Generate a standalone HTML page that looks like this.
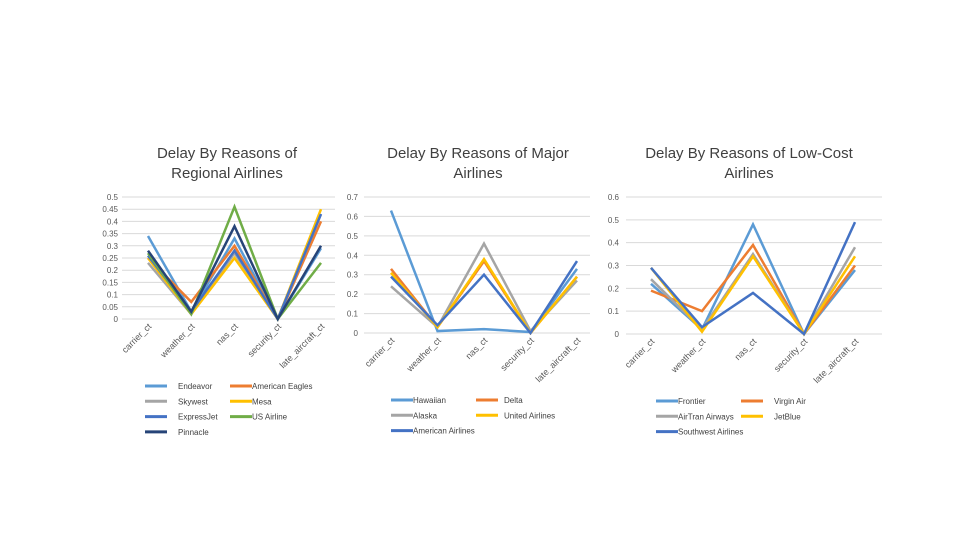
<!DOCTYPE html>
<html><head><meta charset="utf-8"><style>
body{margin:0;background:#fff;width:960px;height:540px;overflow:hidden;font-family:"Liberation Sans",sans-serif}
svg{position:absolute;left:0;top:0}
</style></head><body>
<svg id="s" width="960" height="540"></svg>
<script>
const categories=["carrier_ct","weather_ct","nas_ct","security_ct","late_aircraft_ct"];
const regNames=["Endeavor","American Eagles","Skywest","Mesa","ExpressJet","US Airline","Pinnacle"];
const regEndeavor=[0.34,0.03,0.33,0,0.29];
const regAmerican=[0.25,0.07,0.30,0,0.40];
const regSkywest=[0.23,0.02,0.27,0,0.43];
const regMesa=[0.25,0.02,0.25,0,0.45];
const regExpress=[0.26,0.03,0.28,0,0.43];
const regUS=[0.27,0.02,0.46,0,0.23];
const regPinnacle=[0.28,0.03,0.38,0,0.30];
const majNames=["Hawaiian","Delta","Alaska","United Airlines","American Airlines"];
const majHawaiian=[0.63,0.01,0.02,0.005,0.33];
const majDelta=[0.33,0.03,0.37,0,0.29];
const majAlaska=[0.24,0.03,0.46,0.01,0.27];
const majUnited=[0.31,0.03,0.38,0,0.29];
const majAmerican=[0.29,0.04,0.30,0,0.37];
const lowNames=["Frontier","Virgin Air","AirTran Airways","JetBlue","Southwest Airlines"];
const lowFrontier=[0.22,0.02,0.48,0,0.28];
const lowVirgin=[0.19,0.10,0.39,0,0.30];
const lowAirTran=[0.24,0.02,0.35,0,0.38];
const lowJetBlue=[0.29,0.01,0.34,0,0.34];
const lowSouthwest=[0.29,0.03,0.18,0,0.49];
const regTicks=["0","0.05","0.1","0.15","0.2","0.25","0.3","0.35","0.4","0.45","0.5"];
const majTicks=["0","0.1","0.2","0.3","0.4","0.5","0.6","0.7"];
const lowTicks=["0","0.1","0.2","0.3","0.4","0.5","0.6"];

const NS="http://www.w3.org/2000/svg";
const svg=document.getElementById('s');
function mk(t,a,p){const e=document.createElementNS(NS,t);for(const k in a)e.setAttribute(k,a[k]);(p||svg).appendChild(e);return e;}
const C1=["#5B9BD5","#ED7D31","#A5A5A5","#FFC000","#4472C4","#70AD47","#264478"];
const C2=["#5B9BD5","#ED7D31","#A5A5A5","#FFC000","#4472C4"];

function chart(o){
  const g=mk('g',{});
  
  
  const max=parseFloat(o.ticks[o.ticks.length-1]);
  const y=v=>o.y0-(v/max)*(o.y0-o.y1);
  const x=i=>o.cx[0]+i*(o.cx[1]-o.cx[0])/4;
  const tt=mk('text',{x:o.tx,y:158,'text-anchor':'middle','font-size':15,fill:'#404040'},g);
  
  o.title.forEach((l,i)=>{const ts=mk('tspan',{x:o.tx,dy:i?20:0},tt);ts.textContent=l;});
  o.ticks.forEach(t=>{const v=parseFloat(t);const yy=y(v);
    const gl=mk('line',{x1:o.gx[0],x2:o.gx[1],y1:yy,y2:yy,stroke:'#d9d9d9','stroke-width':1},g);
    
    const lb=mk('text',{x:o.lx,y:yy+3,'text-anchor':'end','font-size':8,fill:'#595959'},g);lb.textContent=t;
    });
  categories.forEach((c,i)=>{const xx=x(i)+4,yy=o.y0+8;
    const lb=mk('text',{x:xx,y:yy,'text-anchor':'end','font-size':9,fill:'#595959',transform:`rotate(-45 ${xx} ${yy})`},g);lb.textContent=c;
    });
  o.series.forEach((s,k)=>{
    const pl=mk('polyline',{points:s.map((v,i)=>x(i)+','+y(v)).join(' '),fill:'none',stroke:o.colors[k],'stroke-width':2.5,'stroke-linejoin':'miter'},g);
    
    const col=k%2,row=Math.floor(k/2);
    const lx=o.leg[0]+col*o.leg[2],ly=o.leg[1]+row*15.3;
    const lg=mk('g',{},g);
    mk('line',{x1:lx,x2:lx+22,y1:ly,y2:ly,stroke:o.colors[k],'stroke-width':3},lg);
    const lt=mk('text',{x:lx+(col?o.leg[4]:o.leg[3]),y:ly+3,'font-size':8,fill:'#404040'},lg);lt.textContent=o.names[k];
  });
}
chart({name:'regional-chart',title:['Delay By Reasons of','Regional Airlines'],tx:227,ticks:regTicks,y0:319,y1:197,gx:[122,335],lx:118,cx:[148,321],
  series:[regEndeavor,regAmerican,regSkywest,regMesa,regExpress,regUS,regPinnacle],names:regNames,colors:C1,leg:[145,386,85,33,22]});
chart({name:'major-chart',title:['Delay By Reasons of Major','Airlines'],tx:478,ticks:majTicks,y0:333,y1:197,gx:[364,590],lx:358,cx:[391,577],
  series:[majHawaiian,majDelta,majAlaska,majUnited,majAmerican],names:majNames,colors:C2,leg:[391,400,85,22,28]});
chart({name:'lowcost-chart',title:['Delay By Reasons of Low-Cost','Airlines'],tx:749,ticks:lowTicks,y0:334,y1:197,gx:[626,882],lx:619,cx:[651,855],
  series:[lowFrontier,lowVirgin,lowAirTran,lowJetBlue,lowSouthwest],names:lowNames,colors:C2,leg:[656,401,85,22,33]});
</script>
</body></html>
